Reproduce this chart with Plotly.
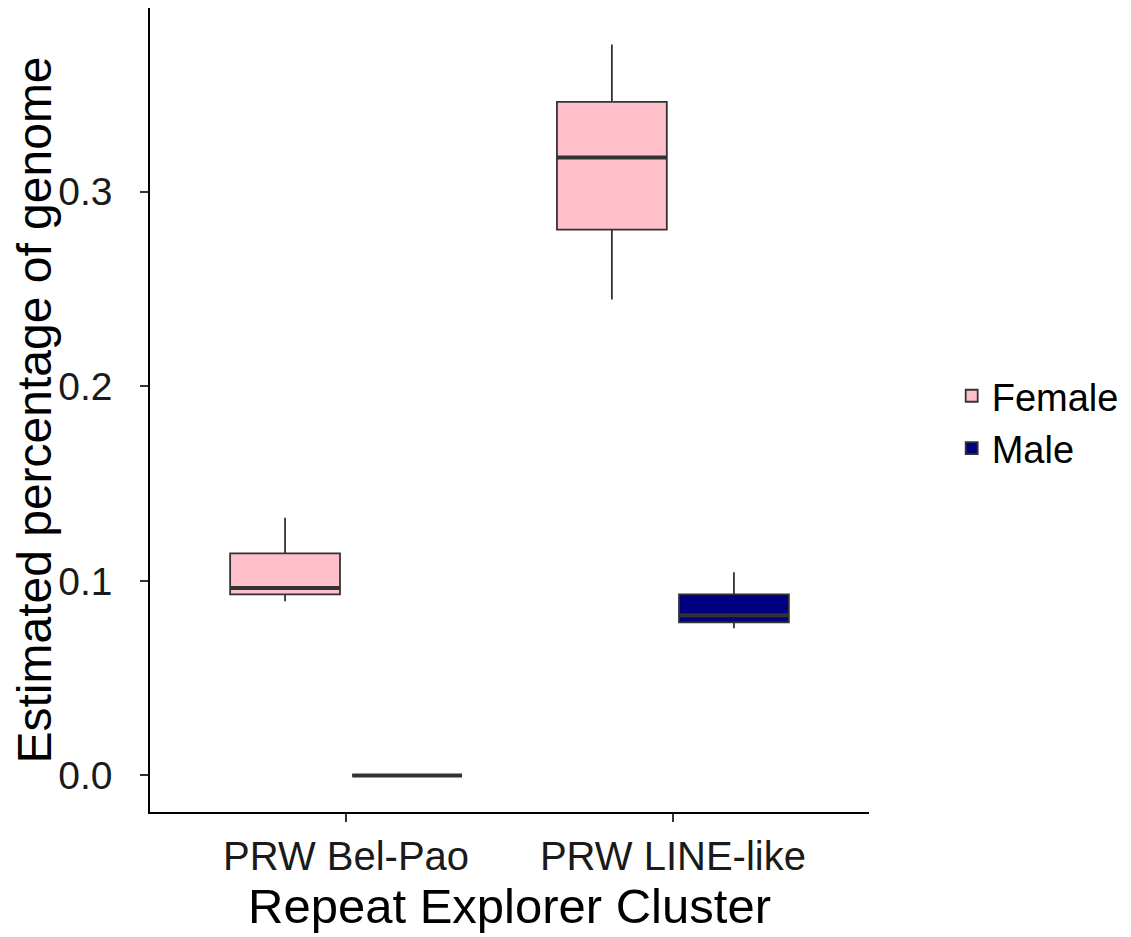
import plotly.graph_objects as go

categories = ["PRW Bel-Pao", "PRW LINE-like"]
groups = ["Female", "Male"]
colors = {"Female": "#FFC0CB", "Male": "#000080"}

female_low = [0.0896, 0.2447]
female_q1 = [0.0931, 0.2806]
female_med = [0.0963, 0.3177]
female_q3 = [0.1141, 0.3462]
female_high = [0.1325, 0.3757]

male_low = [0.0, 0.0756]
male_q1 = [0.0, 0.0787]
male_med = [0.0, 0.0823]
male_q3 = [0.0, 0.0931]
male_high = [0.0, 0.1044]

stats = {
    "Female": (female_low, female_q1, female_med, female_q3, female_high),
    "Male": (male_low, male_q1, male_med, male_q3, male_high),
}

FONT = "Liberation Sans, Arial, sans-serif"

fig = go.Figure()
for g in groups:
    lo, q1, med, q3, hi = stats[g]
    fig.add_trace(go.Box(
        x=categories, q1=q1, median=med, q3=q3,
        lowerfence=lo, upperfence=hi,
        name=g, fillcolor=colors[g],
        line=dict(color="#333333", width=1.8),
        whiskerwidth=0, boxpoints=False, hoverinfo="skip",
        offsetgroup=g, alignmentgroup="a",
    ))
# thicker median bars (ggplot style), drawn as flat boxes at the median
for g in groups:
    lo, q1, med, q3, hi = stats[g]
    fig.add_trace(go.Box(
        x=categories, q1=med, median=med, q3=med,
        lowerfence=med, upperfence=med,
        name=g, fillcolor="rgba(0,0,0,0)",
        line=dict(color="#333333", width=4),
        whiskerwidth=0, boxpoints=False, hoverinfo="skip",
        offsetgroup=g, alignmentgroup="a", showlegend=False,
    ))

fig.update_layout(
    width=1123, height=929,
    paper_bgcolor="white", plot_bgcolor="white",
    margin=dict(l=142, r=262, t=0, b=125),
    boxmode="group", boxgap=0.253, boxgroupgap=0.1,
    font=dict(family=FONT, color="black", size=40),
    showlegend=True,
    legend=dict(x=1.115, xanchor="left", y=0.485, yanchor="middle",
                font=dict(size=38, family=FONT, color="black"),
                bgcolor="rgba(0,0,0,0)", tracegroupgap=0),
)
fig.update_xaxes(
    title=dict(text="Repeat Explorer Cluster", font=dict(size=49, family=FONT), standoff=12),
    range=[-0.6, 1.6], showline=True, linecolor="black", linewidth=1.5,
    ticks="outside", ticklen=8, tickwidth=1.5, tickcolor="#333333",
    tickfont=dict(size=40, family=FONT, color="#1a1a1a"),
    showgrid=False, zeroline=False,
)
fig.update_yaxes(
    title=dict(text="Estimated percentage of genome", font=dict(size=48, family=FONT), standoff=10),
    range=[-0.0188, 0.3945], tickvals=[0, 0.1, 0.2, 0.3], tickformat=".1f",
    showline=True, linecolor="black", linewidth=1.5,
    ticks="outside", ticklen=8, tickwidth=1.5, tickcolor="#333333",
    tickfont=dict(size=39, family=FONT, color="#1a1a1a"),
    showgrid=False, zeroline=False, ticklabelstandoff=20,
)

fig.write_html("out.html")
